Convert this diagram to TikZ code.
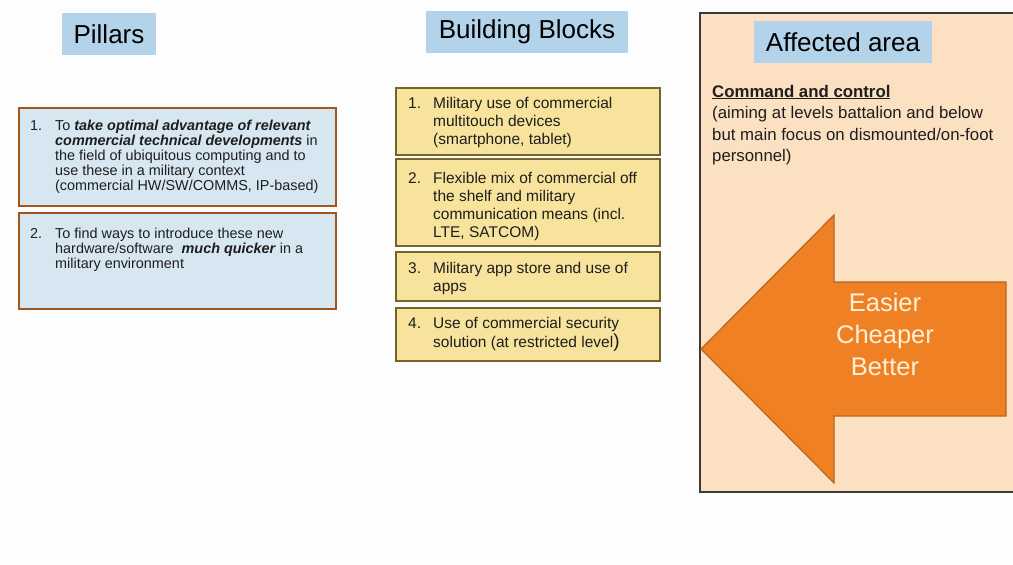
\documentclass[tikz,border=0pt]{standalone}
\usepackage{fontspec}
\setmainfont{Liberation Sans}
\usepackage{array}
\definecolor{bgwhite}{HTML}{FDFDFD}
\definecolor{titleblue}{HTML}{B3D3EA}
\definecolor{pillfill}{HTML}{D7E7F1}
\definecolor{pillborder}{HTML}{A0561C}
\definecolor{bbfill}{HTML}{F8E39C}
\definecolor{bbborder}{HTML}{76652A}
\definecolor{panelfill}{HTML}{FCE0C2}
\definecolor{panelborder}{HTML}{3C3836}
\definecolor{arrowfill}{HTML}{EF8124}
\definecolor{arrowborder}{HTML}{B8661F}
\definecolor{arrowtext}{HTML}{FDF0D8}
\definecolor{txt}{HTML}{1E1E1E}
\tikzset{
  titlebox/.style={fill=titleblue, inner sep=0pt, text=black, font=\fontsize{26}{30}\selectfont},
  pillbox/.style={draw=pillborder, line width=2pt, fill=pillfill, anchor=north west, inner sep=0pt},
  bbbox/.style={draw=bbborder, line width=2pt, fill=bbfill, anchor=north west, inner sep=0pt},
  pilltext/.style={anchor=base west, inner sep=0pt, text=txt, font=\fontsize{14.4}{15}\selectfont},
  bbtext/.style={anchor=base west, inner sep=0pt, text=txt, font=\fontsize{15.5}{18}\selectfont},
  areatext/.style={anchor=base west, inner sep=0pt, text=txt, font=\fontsize{16.8}{21.5}\selectfont},
}
\newcommand{\bi}[1]{\textbf{\textit{#1}}}
\begin{document}
\begin{tikzpicture}[x=1pt,y=-1pt]
\fill[bgwhite] (0,0) rectangle (1013,565);
\useasboundingbox (0,0) rectangle (1013,565);

% titles
\node[titlebox, minimum width=94pt, minimum height=42pt] (tpill) at (109,34) {Pillars};
\node[titlebox, minimum width=202pt, minimum height=42pt] (tbb) at (527,32) {Building Blocks};

% affected area panel
\begin{scope}
\clip (0,0) rectangle (1013,565);
\draw[panelborder, line width=1.3pt, fill=panelfill] (700,13) rectangle (1030,492);
\end{scope}
\node[titlebox, minimum width=178pt, minimum height=42pt] (tarea) at (843,42) {Affected area};

% pillars boxes
\node[pillbox, minimum width=317pt, minimum height=98pt] (p1) at (18,107) {};
\node[pillbox, minimum width=317pt, minimum height=96pt] (p2) at (18,212) {};
\node[pilltext] (p1t) at (30,130) {\begin{tabular}[t]{@{}p{25pt}@{}l@{}}
1. & To \bi{take optimal advantage of relevant}\\
 & \bi{commercial technical developments} in\\
 & the field of ubiquitous computing and to\\
 & use these in a military context\\
 & (commercial HW/SW/COMMS, IP-based)
\end{tabular}};
\node[pilltext] (p2t) at (30,238) {\begin{tabular}[t]{@{}p{25pt}@{}l@{}}
2. & To find ways to introduce these new\\
 & hardware/software \ \bi{much quicker} in a\\
 & military environment
\end{tabular}};

% building blocks
\node[bbbox, minimum width=264pt, minimum height=67pt] (b1) at (395,87) {};
\node[bbbox, minimum width=264pt, minimum height=87pt] (b2) at (395,158) {};
\node[bbbox, minimum width=264pt, minimum height=49pt] (b3) at (395,251) {};
\node[bbbox, minimum width=264pt, minimum height=53pt] (b4) at (395,307) {};
\node[bbtext] (b1t) at (408,108) {\begin{tabular}[t]{@{}p{25pt}@{}l@{}}
1. & Military use of commercial\\
 & multitouch devices\\
 & (smartphone, tablet)
\end{tabular}};
\node[bbtext] (b2t) at (408,183) {\begin{tabular}[t]{@{}p{25pt}@{}l@{}}
2. & Flexible mix of commercial off\\
 & the shelf and military\\
 & communication means (incl.\\
 & LTE, SATCOM)
\end{tabular}};
\node[bbtext] (b3t) at (408,273) {\begin{tabular}[t]{@{}p{25pt}@{}l@{}}
3. & Military app store and use of\\
 & apps
\end{tabular}};
\node[bbtext] (b4t) at (408,328) {\begin{tabular}[t]{@{}p{25pt}@{}l@{}}
4. & Use of commercial security\\
 & solution (at restricted level{\fontsize{19}{18}\selectfont)}
\end{tabular}};

% affected area text
\node[areatext] (at) at (712,97) {\begin{tabular}[t]{@{}l@{}}
\underline{\textbf{Command and control}}\\
(aiming at levels battalion and below\\
but main focus on dismounted/on-foot\\
personnel)
\end{tabular}};

% arrow
\draw[arrowborder, line width=1.2pt, fill=arrowfill, line join=miter]
  (701,349) -- (834,215) -- (834,282) -- (1006,282) -- (1006,416) -- (834,416) -- (834,483) -- cycle;
\node[text=arrowtext, align=center, font=\fontsize{25.5}{32}\selectfont, inner sep=0pt] (arrtxt) at (885,334) {Easier\\Cheaper\\Better};
\end{tikzpicture}
\end{document}
